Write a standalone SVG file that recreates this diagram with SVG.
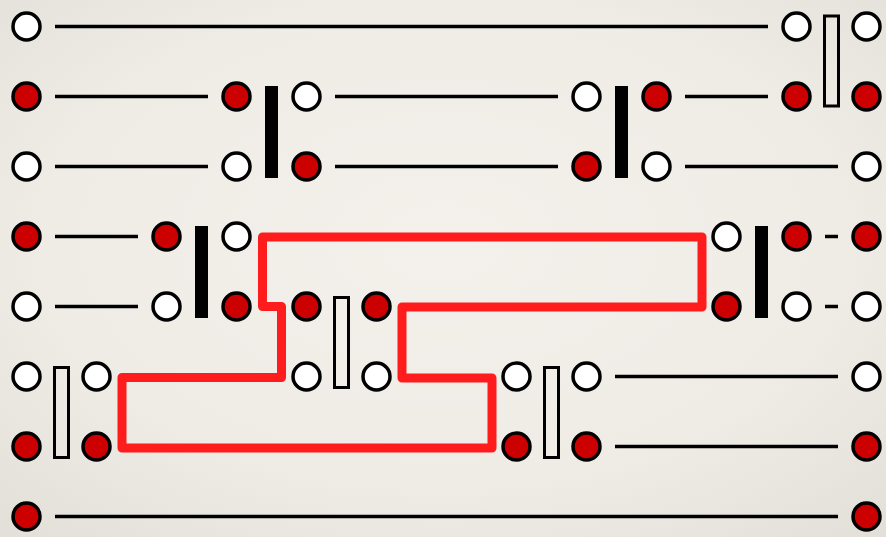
<svg xmlns="http://www.w3.org/2000/svg" width="886" height="537" viewBox="0 0 886 537">
<defs>
<radialGradient id="bg" cx="50%" cy="45%" r="75%">
<stop offset="0" stop-color="#f4f1ec"/>
<stop offset="0.6" stop-color="#efece6"/>
<stop offset="1" stop-color="#e2dfd9"/>
</radialGradient>
<style>
.w{fill:#ffffff;stroke:#000;stroke-width:3.5}
.r{fill:#cc0000;stroke:#000;stroke-width:3.5}
.ln{stroke:#000;stroke-width:3.5;fill:none}
.bb{fill:#000}
.hb{fill:none;stroke:#000;stroke-width:3}
.loop{fill:none;stroke:#ff1c1c;stroke-width:9;stroke-linejoin:round}
</style>
</defs>
<rect width="886" height="537" fill="url(#bg)"/>
<g id="connectors">
<line class="ln" x1="55" y1="26.5" x2="768" y2="26.5"/>
<line class="ln" x1="55" y1="96.5" x2="208" y2="96.5"/>
<line class="ln" x1="335" y1="96.5" x2="558" y2="96.5"/>
<line class="ln" x1="685" y1="96.5" x2="768" y2="96.5"/>
<line class="ln" x1="55" y1="166.5" x2="208" y2="166.5"/>
<line class="ln" x1="335" y1="166.5" x2="558" y2="166.5"/>
<line class="ln" x1="685" y1="166.5" x2="838" y2="166.5"/>
<line class="ln" x1="55" y1="236.5" x2="138" y2="236.5"/>
<line class="ln" x1="825" y1="236.5" x2="838" y2="236.5"/>
<line class="ln" x1="55" y1="306.5" x2="138" y2="306.5"/>
<line class="ln" x1="825" y1="306.5" x2="838" y2="306.5"/>
<line class="ln" x1="615" y1="376.5" x2="838" y2="376.5"/>
<line class="ln" x1="615" y1="446.5" x2="838" y2="446.5"/>
<line class="ln" x1="55" y1="516.5" x2="838" y2="516.5"/>
</g>
<g id="bars">
<rect class="bb" x="265" y="86" width="13" height="92"/>
<rect class="bb" x="615" y="86" width="13" height="92"/>
<rect class="bb" x="195" y="226" width="13" height="92"/>
<rect class="bb" x="755" y="226" width="13" height="92"/>
<rect class="hb" x="824.5" y="16" width="14" height="90"/>
<rect class="hb" x="334.5" y="297.5" width="14" height="90"/>
<rect class="hb" x="54.5" y="367.5" width="14" height="90"/>
<rect class="hb" x="544.5" y="367.5" width="14" height="90"/>
</g>
<g id="loop">
<path class="loop" d="M262.5,237 L262.5,306.5 L281.5,306.5 L281.5,377.5 L122,377.5 L122,448 L492,448 L492,378 L402,378 L402,307 L702,307 L702,237 Z"/>
</g>
<g id="row0">
<circle class="w" cx="26.5" cy="26.5" r="13.5"/>
<circle class="w" cx="796.5" cy="26.5" r="13.5"/>
<circle class="w" cx="866.5" cy="26.5" r="13.5"/>
</g>
<g id="row1">
<circle class="r" cx="26.5" cy="96.5" r="13.5"/>
<circle class="r" cx="236.5" cy="96.5" r="13.5"/>
<circle class="w" cx="306.5" cy="96.5" r="13.5"/>
<circle class="w" cx="586.5" cy="96.5" r="13.5"/>
<circle class="r" cx="656.5" cy="96.5" r="13.5"/>
<circle class="r" cx="796.5" cy="96.5" r="13.5"/>
<circle class="r" cx="866.5" cy="96.5" r="13.5"/>
</g>
<g id="row2">
<circle class="w" cx="26.5" cy="166.5" r="13.5"/>
<circle class="w" cx="236.5" cy="166.5" r="13.5"/>
<circle class="r" cx="306.5" cy="166.5" r="13.5"/>
<circle class="r" cx="586.5" cy="166.5" r="13.5"/>
<circle class="w" cx="656.5" cy="166.5" r="13.5"/>
<circle class="w" cx="866.5" cy="166.5" r="13.5"/>
</g>
<g id="row3">
<circle class="r" cx="26.5" cy="236.5" r="13.5"/>
<circle class="r" cx="166.5" cy="236.5" r="13.5"/>
<circle class="w" cx="236.5" cy="236.5" r="13.5"/>
<circle class="w" cx="726.5" cy="236.5" r="13.5"/>
<circle class="r" cx="796.5" cy="236.5" r="13.5"/>
<circle class="r" cx="866.5" cy="236.5" r="13.5"/>
</g>
<g id="row4">
<circle class="w" cx="26.5" cy="306.5" r="13.5"/>
<circle class="w" cx="166.5" cy="306.5" r="13.5"/>
<circle class="r" cx="236.5" cy="306.5" r="13.5"/>
<circle class="r" cx="306.5" cy="306.5" r="13.5"/>
<circle class="r" cx="376.5" cy="306.5" r="13.5"/>
<circle class="r" cx="726.5" cy="306.5" r="13.5"/>
<circle class="w" cx="796.5" cy="306.5" r="13.5"/>
<circle class="w" cx="866.5" cy="306.5" r="13.5"/>
</g>
<g id="row5">
<circle class="w" cx="26.5" cy="376.5" r="13.5"/>
<circle class="w" cx="96.5" cy="376.5" r="13.5"/>
<circle class="w" cx="306.5" cy="376.5" r="13.5"/>
<circle class="w" cx="376.5" cy="376.5" r="13.5"/>
<circle class="w" cx="516.5" cy="376.5" r="13.5"/>
<circle class="w" cx="586.5" cy="376.5" r="13.5"/>
<circle class="w" cx="866.5" cy="376.5" r="13.5"/>
</g>
<g id="row6">
<circle class="r" cx="26.5" cy="446.5" r="13.5"/>
<circle class="r" cx="96.5" cy="446.5" r="13.5"/>
<circle class="r" cx="516.5" cy="446.5" r="13.5"/>
<circle class="r" cx="586.5" cy="446.5" r="13.5"/>
<circle class="r" cx="866.5" cy="446.5" r="13.5"/>
</g>
<g id="row7">
<circle class="r" cx="26.5" cy="516.5" r="13.5"/>
<circle class="r" cx="866.5" cy="516.5" r="13.5"/>
</g>
</svg>
